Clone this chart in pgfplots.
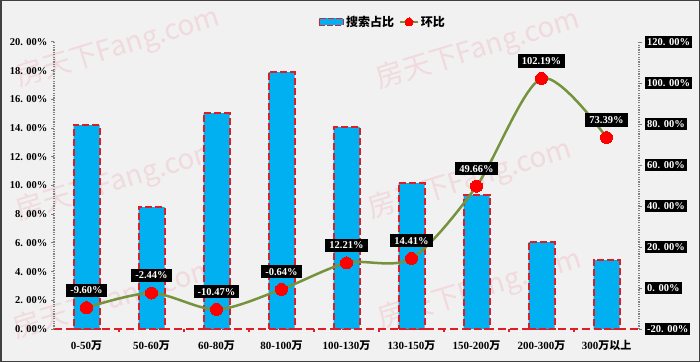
\documentclass[border=0pt]{standalone}
\usepackage{pgfplots}
\usepackage{pgfplotstable}
\pgfplotsset{compat=1.18}
\usepackage{fontspec}
\setmainfont{Liberation Serif}
\newfontfamily\cjk{Noto Sans CJK SC}

\definecolor{bg}{RGB}{241,241,241}
\definecolor{barblue}{RGB}{0,176,240}
\definecolor{barred}{RGB}{222,30,38}
\definecolor{olivel}{RGB}{118,146,60}
\definecolor{dotred}{RGB}{255,0,0}
\definecolor{wm}{RGB}{240,218,221}
\definecolor{axgray}{RGB}{128,128,128}

\pgfplotstableread{
x share
0 14.20
1 8.50
2 15.05
3 17.90
4 14.08
5 10.17
6 9.34
7 6.06
8 4.80
}\sharetab

\pgfplotstableread{
x rate lab
0 -9.60 -9.60
1 -2.44 -2.44
2 -10.47 -10.47
3 -0.64 -0.64
4 12.21 12.21
5 14.41 14.41
6 49.66 49.66
7 102.19 102.19
8 73.39 73.39
}\ratetab

\begin{document}
\begin{tikzpicture}
\fill[bg] (0,0) rectangle (700pt,362pt);
% watermarks
\begin{scope}[every node/.style={text=wm, font=\cjk\fontsize{28}{28}\selectfont, rotate=17, inner sep=0pt}]
\node at (118pt,314pt) {房天下Fang.com};
\node at (478pt,312pt) {房天下Fang.com};
\node at (118pt,180pt) {房天下Fang.com};
\node at (470pt,182pt) {房天下Fang.com};
\node at (115pt,62pt) {房天下Fang.com};
\node at (480pt,72pt) {房天下Fang.com};
\end{scope}

\begin{axis}[
  at={(54pt,33pt)}, anchor=south west,
  scale only axis, width=585pt, height=287pt,
  xmin=-0.5, xmax=8.5, ymin=0, ymax=20,
  axis x line*=bottom, axis y line*=left,
  x axis line style={barred, line width=2.4pt, dash pattern=on 8pt off 4pt},
  y axis line style={axgray, line width=2.2pt, dash pattern=on 1.2pt off 1.2pt},
  tick align=outside,
  ytick={0,2,...,20},
  yticklabels={0. 00\%,2. 00\%,4. 00\%,6. 00\%,8. 00\%,10. 00\%,12. 00\%,14. 00\%,16. 00\%,18. 00\%,20. 00\%},
  yticklabel style={font=\bfseries\fontsize{10.5}{11}\selectfont, text=black},
  ytick style={axgray, line width=1pt},
  major tick length=3pt,
  xtick={0.5,1.5,...,7.5},
  xticklabels={},
  xtick style={barred, line width=1.5pt},
  extra x ticks={0,1,2,3,4,5,6,7,8},
  extra x tick labels={{0-50{\cjk\bfseries 万}},{50-60{\cjk\bfseries 万}},{60-80{\cjk\bfseries 万}},{80-100{\cjk\bfseries 万}},{100-130{\cjk\bfseries 万}},{130-150{\cjk\bfseries 万}},{150-200{\cjk\bfseries 万}},{200-300{\cjk\bfseries 万}},{300{\cjk\bfseries 万以上}}},
  extra x tick style={major tick length=0pt, xticklabel style={font=\bfseries\fontsize{11}{12}\selectfont, text=black, yshift=-8pt}},
]
\addplot[ybar, bar width=26pt, fill=barblue, draw=barred, line width=2pt, dash pattern=on 7pt off 3pt]
  table[x=x, y=share] {\sharetab};
\end{axis}

\begin{axis}[
  at={(54pt,33pt)}, anchor=south west,
  scale only axis, width=585pt, height=287pt,
  xmin=-0.5, xmax=8.5, ymin=-20, ymax=120,
  axis y line*=right, axis x line=none,
  y axis line style={axgray, line width=2.2pt, dash pattern=on 1.2pt off 1.2pt},
  tick align=outside,
  ytick={-20,0,...,120},
  yticklabels={-20. 00\%,0. 00\%,20. 00\%,40. 00\%,60. 00\%,80. 00\%,100. 00\%,120. 00\%},
  yticklabel style={fill=black, text=white, font=\bfseries\fontsize{10.5}{11}\selectfont, inner sep=2pt, anchor=west, xshift=3pt},
  ytick style={axgray, line width=1pt},
  major tick length=3pt,
  clip=false,
  legend style={at={(0.562,1.07)}, anchor=center, draw=none, fill=none, legend columns=-1,
    font=\cjk\bfseries\fontsize{12}{13}\selectfont,
    /tikz/every even column/.append style={column sep=3pt}},
]
\addlegendimage{legend image code/.code={\draw[fill=barblue, draw=barred, line width=1.5pt, dash pattern=on 6pt off 2pt] (0pt,-3.5pt) rectangle (24pt,3.5pt);}}
\addlegendentry{搜索占比}
\addplot[olivel, line width=2.5pt, smooth, tension=0.5,
  mark=*, mark size=6pt, mark options={fill=dotred, draw=dotred, line width=0pt},
  point meta=explicit symbolic,
  nodes near coords={\pgfplotspointmeta\%},
  nodes near coords align={anchor=south},
  every node near coord/.append style={fill=black, text=white, font=\bfseries\fontsize{10.5}{11}\selectfont, inner xsep=4pt, inner ysep=3pt, yshift=11pt},
  legend image post style={mark size=4pt},
] table[x=x, y=rate, meta=lab] {\ratetab};
\addlegendentry{环比}
\end{axis}

\draw[black!75, line width=1.5pt] (0.75pt,0.75pt) rectangle (699.25pt,361.25pt);
\pgfresetboundingbox
\useasboundingbox (0,0) rectangle (700pt,362pt);
\end{tikzpicture}
\end{document}
